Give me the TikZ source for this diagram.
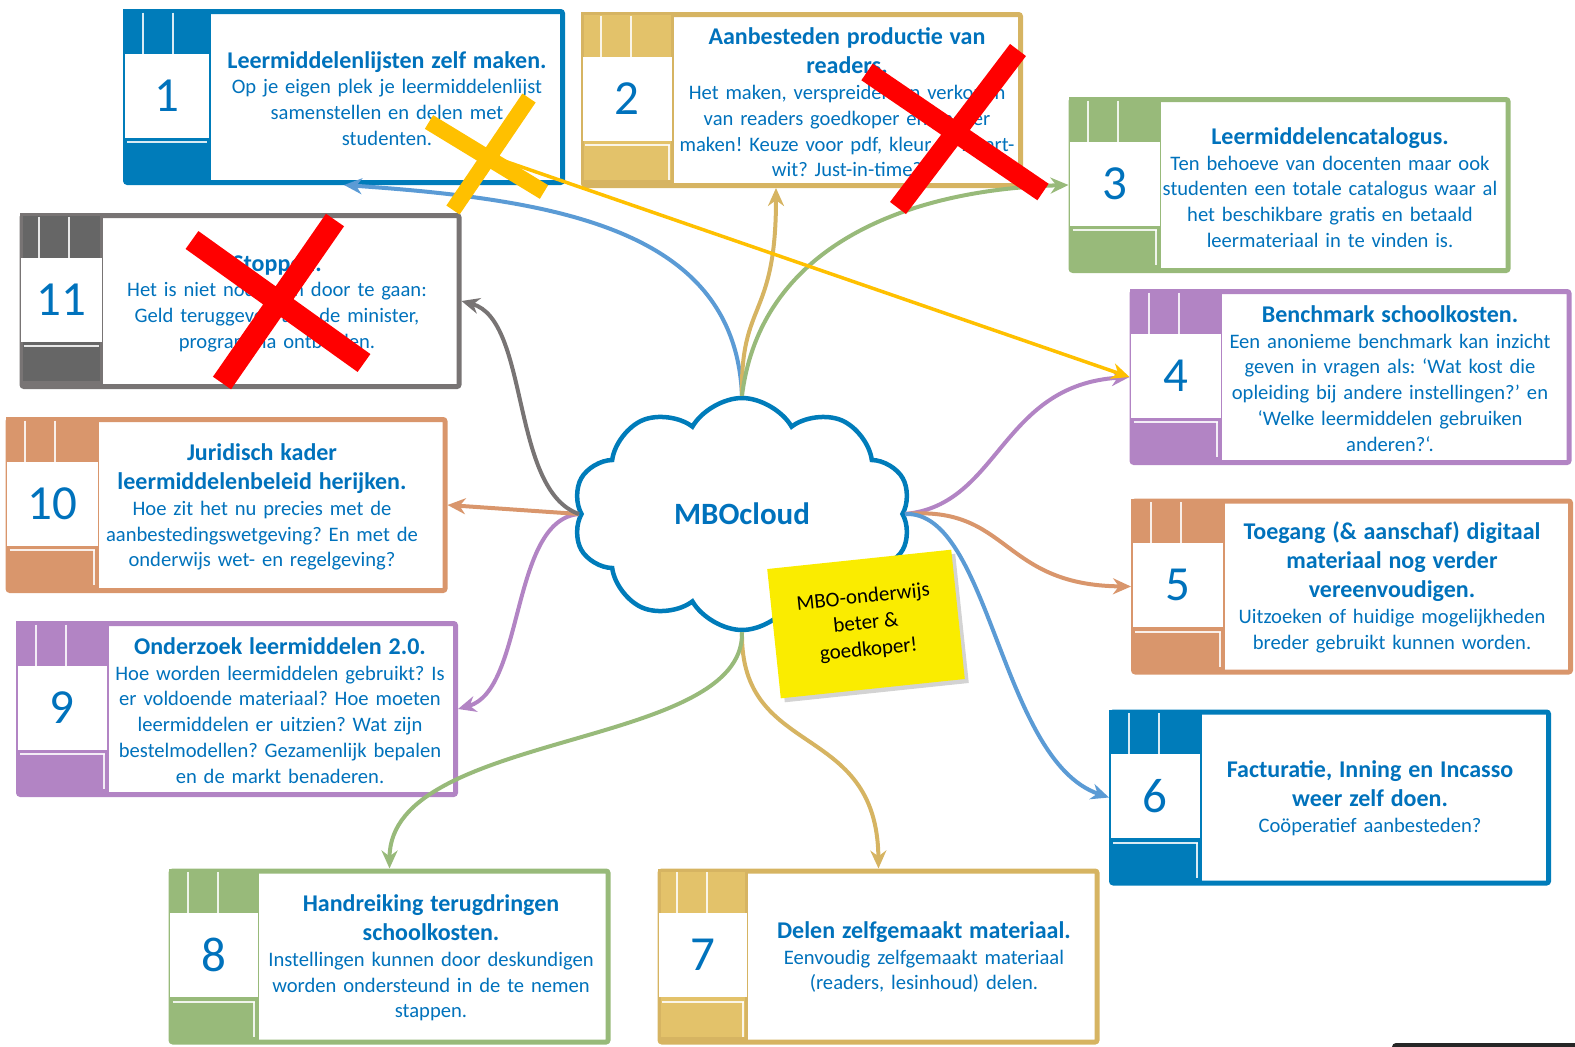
\documentclass[tikz,border=0pt]{standalone}
\usepackage{fontspec}
\setmainfont{Carlito}
\usetikzlibrary{arrows.meta,calc,shapes.symbols,shadows}
\frenchspacing

\definecolor{capBlue}{RGB}{0,124,186}
\definecolor{capText}{RGB}{0,114,188}
\definecolor{capGold}{RGB}{214,180,98}
\definecolor{capGoldL}{RGB}{227,194,106}
\definecolor{capGreen}{RGB}{152,186,122}
\definecolor{capPurple}{RGB}{178,132,196}
\definecolor{capOrange}{RGB}{217,150,108}
\definecolor{capGray}{RGB}{120,116,116}
\definecolor{capGrayD}{RGB}{102,102,102}
\definecolor{linkBlue}{RGB}{91,155,213}
\definecolor{noteYellow}{RGB}{250,236,0}
\definecolor{crossYellow}{RGB}{255,192,0}
\definecolor{crossRed}{RGB}{255,0,0}

\newcommand{\cardhead}{\fontsize{24}{29}\selectfont\bfseries}
\newcommand{\cardbody}{\fontsize{20.6}{25.7}\selectfont\mdseries}

\begin{document}
\begin{tikzpicture}[
  x=1pt, y=-1pt,
  card/.style={rectangle, draw=#1, line width=5pt, rounded corners=2pt, fill=white, minimum width=437pt, minimum height=171pt, inner sep=0pt},
  cardtext/.style={align=center, text width=420pt, inner sep=0pt, text=capText, font=\cardbody},
  daynum/.style={inner sep=0pt, text=capText, font=\fontsize{49}{49}\selectfont},
  calline/.style={draw=white, line width=2pt, opacity=0.85},
  link/.style={line width=4pt, -{Stealth[length=18pt,width=16pt]}},
  cross/.style={line width=20pt},
  note/.style={rectangle, fill=noteYellow, rotate=6, minimum width=185pt, minimum height=130pt, align=center, font=\fontsize{21}{26.5}\selectfont, drop shadow={shadow xshift=4pt, shadow yshift=-4pt, opacity=0.35}}
]
\useasboundingbox (0,0) rectangle (1575,1047);

% cards
\node[card=capBlue] (b1) at (344,97) {};
\node[card=capGold] (b2) at (802,100) {};
\node[card=capGreen] (b3) at (1289.5,185) {};
\node[card=capPurple] (b4) at (1350.5,377) {};
\node[card=capOrange] (b5) at (1352,586.5) {};
\node[card=capBlue] (b6) at (1330,797.5) {};
\node[card=capGold] (b7) at (878.5,956.5) {};
\node[card=capGreen] (b8) at (389.5,956.5) {};
\node[card=capPurple] (b9) at (237,709) {};
\node[card=capOrange] (b10) at (226.5,505) {};
\node[card=capGray] (b11) at (240.5,301) {};

% calendar strips
\foreach \n/\col/\pan/\pw in {1/capBlue/capBlue/87.5, 2/capGold/capGoldL/92.5, 3/capGreen/capGreen/92.5,
    4/capPurple/capPurple/92.5, 5/capOrange/capOrange/93.5, 6/capBlue/capBlue/92.5, 7/capGold/capGoldL/90.5,
    8/capGreen/capGreen/90.5, 9/capPurple/capPurple/92.5, 10/capOrange/capOrange/93.5, 11/capGray/capGrayD/83.5}{
  \fill[\col] (b\n.north west) rectangle ++(\pw,171);
  \fill[\pan] ($(b\n.north west)+(3,3)$) rectangle ++(\pw-6,165);
  \fill[white] ($(b\n.north west)+(1.5,44.5)$) rectangle ++(\pw-3,84);
  \draw[calline] ($(b\n.north west)+(19.5,3.5)$) -- ++(0,41) ($(b\n.north west)+(49.5,3.5)$) -- ++(0,41);
  \draw[calline] ($(b\n.north west)+(4,133)$) -- ++(\pw-8,0);
  \node[daynum] (n\n) at ($(b\n.north west)+(\pw/2,86.5)$) {\n};
}
\foreach \n/\pw in {2/92.5, 3/92.5, 4/92.5, 5/93.5, 6/92.5, 7/90.5, 8/90.5, 9/92.5, 10/93.5}
  \draw[calline] ($(b\n.north west)+(\pw-5,133)$) -- ++(0,35);

% texts
\node[cardtext] (t1) at (387,98.5) {\cardhead Leermiddelenlijsten zelf maken.\\\cardbody Op je eigen plek je leermiddelenlijst\\samenstellen en delen met\\studenten.};
\node[cardtext] (t2) at (847,102.5) {\cardhead Aanbesteden productie van\\readers.\\\cardbody Het maken, verspreiden en verkopen\\van readers goedkoper en sneller\\maken! Keuze voor pdf, kleur of zwart-\\wit? Just-in-time?};
\node[cardtext] (t3) at (1330,187.5) {\cardhead Leermiddelencatalogus.\\\cardbody Ten behoeve van docenten maar ook\\studenten een totale catalogus waar al\\het beschikbare gratis en betaald\\leermateriaal in te vinden is.};
\node[cardtext] (t4) at (1390,378.5) {\cardhead Benchmark schoolkosten.\\\cardbody Een anonieme benchmark kan inzicht\\geven in vragen als: ‘Wat kost die\\opleiding bij andere instellingen?’ en\\‘Welke leermiddelen gebruiken\\anderen?‘.};
\node[cardtext] (t5) at (1392,587.5) {\cardhead Toegang (\& aanschaf) digitaal\\materiaal nog verder\\vereenvoudigen.\\\cardbody Uitzoeken of huidige mogelijkheden\\breder gebruikt kunnen worden.};
\node[cardtext] (t6) at (1370,798.5) {\cardhead Facturatie, Inning en Incasso\\weer zelf doen.\\\cardbody Coöperatief aanbesteden?};
\node[cardtext] (t7) at (924,957) {\cardhead Delen zelfgemaakt materiaal.\\\cardbody Eenvoudig zelfgemaakt materiaal\\(readers, lesinhoud) delen.};
\node[cardtext] (t8) at (431,958) {\cardhead Handreiking terugdringen\\schoolkosten.\\\cardbody Instellingen kunnen door deskundigen\\worden ondersteund in de te nemen\\stappen.};
\node[cardtext] (t9) at (280,710.5) {\cardhead Onderzoek leermiddelen 2.0.\\\cardbody Hoe worden leermiddelen gebruikt? Is\\er voldoende materiaal? Hoe moeten\\leermiddelen er uitzien? Wat zijn\\bestelmodellen? Gezamenlijk bepalen\\en de markt benaderen.};
\node[cardtext] (t10) at (262,507) {\cardhead Juridisch kader\\leermiddelenbeleid herijken.\\\cardbody Hoe zit het nu precies met de\\aanbestedingswetgeving? En met de\\onderwijs wet- en regelgeving?};
\node[cardtext] (t11) at (277,303.5) {\cardhead Stoppen.\\\cardbody Het is niet nodig om door te gaan:\\Geld teruggeven aan de minister,\\programma ontbinden.};

% cloud
\node[cloud, cloud puffs=10, cloud puff arc=120, cloud ignores aspect, draw=capBlue, line width=4.5pt, fill=white,
  minimum width=338pt, minimum height=232pt, text=capText, font=\fontsize{31}{31}\selectfont\bfseries] (mbo) at (742,514) {MBOcloud};

% links
\draw[link, linkBlue] (mbo.north) .. controls (735,230) and (560,200) .. (b1.south);
\draw[link, capGold] (mbo.north) .. controls (740,300) and (776,320) .. ([xshift=-26pt]b2.south);
\draw[link, capGreen] (mbo.north) .. controls (760,250) and (900,190) .. (b3.west);
\draw[link, capPurple] (mbo.east) .. controls (1000,505) and (1000,385) .. (b4.west);
\draw[link, capOrange] (mbo.east) .. controls (1010,505) and (1000,585) .. (b5.west);
\draw[link, linkBlue] (mbo.east) .. controls (990,510) and (1000,760) .. (b6.west);
\draw[link, capGold] (mbo.south) .. controls (740,760) and (877,720) .. (b7.north);
\draw[link, capGreen] (mbo.south) .. controls (745,750) and (390,730) .. (b8.north);
\draw[link, capPurple] (mbo.west) .. controls (510,520) and (525,690) .. (b9.east);
\draw[link, capOrange] (mbo.west) -- (b10.east);
\draw[link, capGray] (mbo.west) .. controls (510,490) and (530,320) .. (b11.east);

% moved: 1 into 4
\coordinate (yx) at (487,155);
\draw[link, crossYellow, line width=3.5pt] (yx) -- (b4.west);

% crosses
\draw[cross, crossYellow, line width=16pt] (453,210) -- (529,98) (429,122) -- (544,192);
\draw[cross, crossRed] (867,72) -- (1043,192) (898,208) -- (1018,50);
\draw[cross, crossRed, line width=22pt] (192,240) -- (364,363) (222,383) -- (335,220);

% sticky note
\node[note] (tip) at (866,624) {MBO-onderwijs\\beter \&\\goedkoper!};

% cut-off shape at the corner
\fill[black!85, rounded corners=4pt] (1392,1043) rectangle (1590,1060);
\end{tikzpicture}
\end{document}
